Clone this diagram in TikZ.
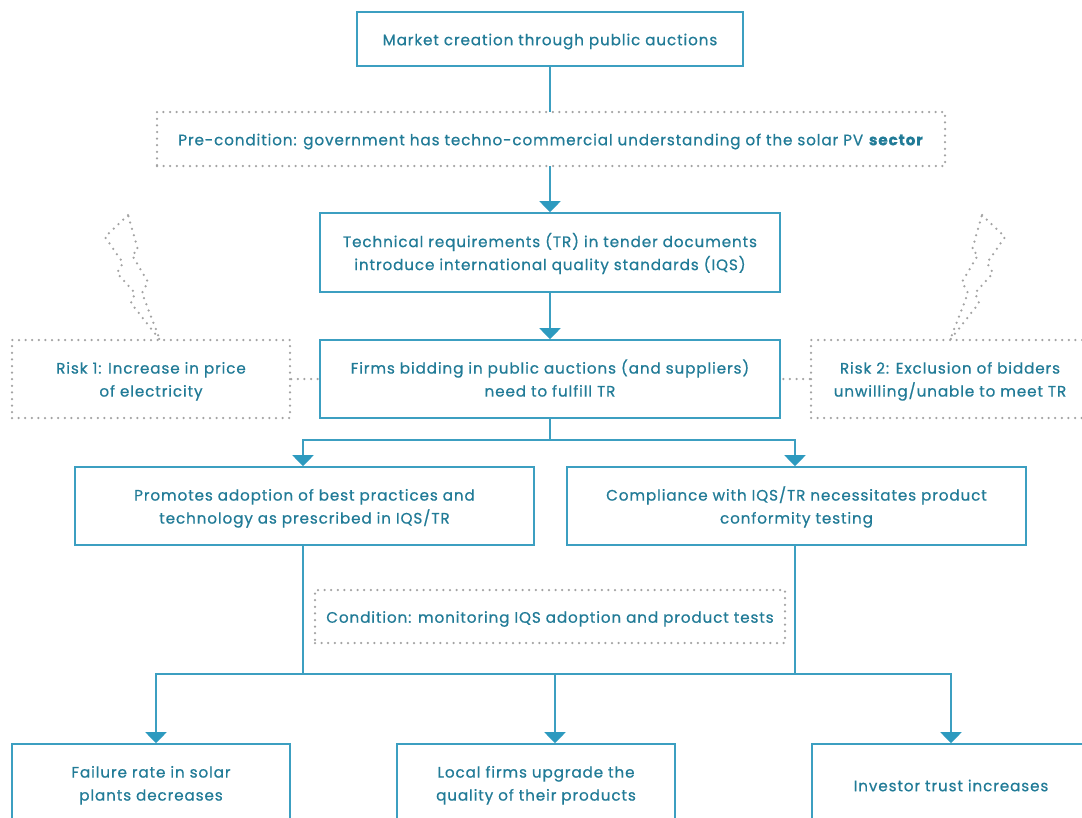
\documentclass[tikz,border=0pt]{standalone}
\usepackage{fontspec}
\setmainfont{Poppins}[LetterSpace=5.8,FakeBold=0.6]
\usetikzlibrary{arrows.meta}
\definecolor{boxc}{HTML}{3C9FC1}
\definecolor{txtc}{HTML}{217B97}
\definecolor{dotc}{HTML}{A3A3A3}
\definecolor{arrc}{HTML}{2D9ABF}
\newcommand\diagfont{\fontsize{15.2}{23}\selectfont}
\newcommand\lowr[1]{\raisebox{-2.5pt}[\height][\depth]{#1}}
\newcommand\twoline[2]{\raisebox{-1.5pt}[\height][\depth]{\begin{tabular}{@{}c@{}}#1\\#2\end{tabular}}}
\tikzset{
  base/.style={text=txtc, align=center, font=\diagfont, inner sep=0pt, fill=white},
  solidbox/.style={base, draw=boxc, line width=1.6pt},
  dotbox/.style={base, draw=dotc, line width=2.5pt, dash pattern=on 0pt off 6.6pt, line cap=round},
  dotline/.style={draw=dotc, line width=2.5pt, dash pattern=on 0pt off 6.6pt, line cap=round},
  link/.style={draw=boxc, line width=2pt},
  arr/.style={link, -{Triangle[width=21pt,length=11pt,color=arrc]}},
}
\begin{document}
\begin{tikzpicture}[x=1pt,y=-1pt]
\useasboundingbox (0,0) rectangle (1082,817);
\clip (0,0) rectangle (1082,817);
% bolts
\draw[dotline] (128,215) -- (105,237) -- (123,263) -- (117,273) -- (135,293) -- (131,303) -- (160,340) -- (142,293) -- (148,282) -- (132,255) -- (138,250) -- cycle;
\draw[dotline] (982,215) -- (1005,237) -- (987,263) -- (993,273) -- (975,293) -- (979,303) -- (950,340) -- (968,293) -- (962,282) -- (978,255) -- (972,250) -- cycle;
% nodes
\node[solidbox, minimum width=386pt, minimum height=54pt] (m) at (550,39) {\lowr{Market creation through public auctions}};
\node[solidbox, minimum width=460pt, minimum height=79pt] (tr) at (550,252.5) {\twoline{Technical requirements (TR) in tender documents}{introduce international quality standards (IQS)}};
\node[solidbox, minimum width=460pt, minimum height=78pt] (firms) at (550,379) {\twoline{Firms bidding in public auctions (and suppliers)}{need to fulfill TR}};
\node[dotbox, minimum width=278pt, minimum height=78pt] (r1) at (151,379) {\twoline{Risk 1: Increase in price}{of electricity}};
\node[dotbox, minimum width=278pt, minimum height=78pt] (r2) at (950,379) {\twoline{Risk 2: Exclusion of bidders}{unwilling/unable to meet TR}};
\node[solidbox, minimum width=459pt, minimum height=78pt] (prom) at (304.5,506) {\twoline{Promotes adoption of best practices and}{technology as prescribed in IQS/TR}};
\node[solidbox, minimum width=459pt, minimum height=78pt] (comp) at (796.5,506) {\twoline{Compliance with IQS/TR necessitates product}{conformity testing}};
\node[solidbox, minimum width=278pt, minimum height=78pt] (fail) at (151,783) {\twoline{Failure rate in solar}{plants decreases}};
\node[solidbox, minimum width=278pt, minimum height=78pt] (local) at (536,783) {\twoline{Local firms upgrade the}{quality of their products}};
\node[solidbox, minimum width=278pt, minimum height=78pt] (inv) at (951,783) {\lowr{Investor trust increases}};
% connectors
\coordinate (busL) at (156,674);
\coordinate (busM) at (555,674);
\coordinate (busR) at (951,674);
\coordinate (split) at (550,440);
\draw[link] (m.south) -- (m.south |- 0,112);
\draw[arr] (m.south |- 0,166) -- (tr.north);
\draw[arr] (tr.south) -- (firms.north);
\draw[link] (firms.south) -- (split);
\draw[arr] (split) -| (prom.north -| 303,0);
\draw[arr] (split) -| (comp.north -| 795,0);
\draw[link] (prom.south -| 303,0) -- (busL -| 303,0);
\draw[link] (comp.south -| 795,0) -- (busL -| 795,0);
\draw[arr] (busM) -| (fail.north -| busL);
\draw[arr] (busM) -| (inv.north -| busR);
\draw[arr] (busM) -- (local.north -| busM);
\draw[dotline] (r1.east) -- (firms.west);
\draw[dotline] (r2.west) -- (firms.east);
% dotted condition boxes
\node[dotbox, minimum width=788pt, minimum height=54pt] (pre) at (551,139) {\lowr{Pre-condition: government has techno-commercial understanding of the solar PV \textbf{sector}}};
\node[dotbox, minimum width=470pt, minimum height=53pt] (cond) at (550,616.5) {\lowr{Condition: monitoring IQS adoption and product tests}};
\end{tikzpicture}
\end{document}
